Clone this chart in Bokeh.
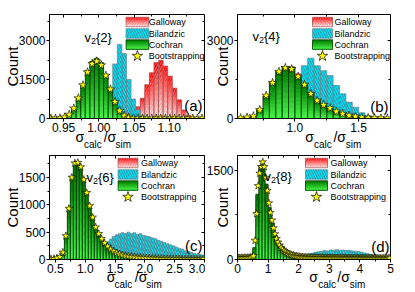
import numpy as np
from bokeh.plotting import figure
from bokeh.models import Range1d, FixedTicker, PrintfTickFormatter, Label, LinearAxis
from bokeh.layouts import column, row
from bokeh.embed import file_html
from bokeh.resources import INLINE

FONT = "Liberation Sans"

# ---------------- data ----------------
# (a) v2{2}: bin width 0.0065, first bin centre 0.932
A_W = 0.0065
A_X0 = 0.932
A_BOOT = [0, 2, 12, 45, 150, 390, 780, 1280, 1780, 2100, 2200, 2050, 1650, 1120, 640, 300,
          110, 35, 10, 3, 0, 0, 0, 0, 0, 0, 0, 0, 0, 0, 0, 0, 0, 0]
A_GREEN = [0, 0, 10, 50, 160, 400, 800, 1300, 1850, 2200, 2320, 2150, 1700, 1150, 650, 300,
           110, 35, 10, 0, 0, 0, 0, 0, 0, 0, 0, 0, 0, 0, 0, 0, 0, 0]
A_CYAN = [0, 0, 0, 0, 0, 0, 0, 0, 0, 0, 30, 120, 400, 1100, 2100, 2850, 2500, 1500, 750, 330,
          120, 40, 0, 0, 0, 0, 0, 0, 0, 0, 0, 0, 0, 0]
A_RED = [0, 0, 0, 0, 0, 0, 0, 0, 0, 0, 0, 0, 0, 0, 0, 0, 0, 0, 80, 450, 780, 1300, 1760, 2150,
         2240, 2020, 1630, 1170, 720, 330, 130, 40, 0, 0]

# (b) v2{4}: bin width 0.05
B_W = 0.05
B_X0 = 0.575
B_BOOT = [15, 40, 90, 330, 880, 1370, 1800, 1950, 1900, 1610, 1300, 950, 690, 525, 400, 270,
          180, 115, 77, 40, 25, 15, 8, 5]
B_GREEN = [10, 35, 95, 340, 860, 1400, 1820, 2000, 1980, 1620, 1280, 960, 700, 530, 390, 280,
           185, 120, 75, 45, 25, 15, 8, 4]
B_RED = [10, 35, 95, 340, 860, 1400, 1820, 2000, 1980, 1720, 1300, 960, 700, 530, 390, 280,
         185, 120, 75, 45, 25, 15, 8, 4]
B_CYAN = [0, 0, 0, 10, 50, 150, 350, 650, 1050, 1600, 2030, 2320, 2030, 1840, 1650, 1270,
          950, 630, 435, 220, 115, 50, 20, 5]

# (c) v2{6}: bin width 0.05
C_W = 0.05
C_X0 = 0.425
C_BOOT = [10, 15, 25, 50, 130, 430, 930, 1500, 1760, 1770, 1690, 1460, 1220, 980, 770, 590,
          470, 380, 300, 240, 185, 150, 120, 100, 82, 70, 60, 52, 45, 40, 35, 30, 27, 24, 21,
          19, 17, 15, 13, 12, 11, 10, 9, 8, 7, 7, 6, 5, 5, 4, 4, 3]
C_GREEN = [8, 12, 22, 45, 140, 440, 940, 1520, 1780, 1790, 1700, 1470, 1230, 990, 780, 600,
           475, 385, 300, 240, 190, 150, 120, 100, 84, 70, 60, 52, 45, 40, 35, 31, 27, 24, 21,
           19, 17, 15, 13, 12, 11, 10, 9, 8, 7, 7, 6, 5, 5, 4, 4, 3]
C_RED = [7, 11, 20, 42, 130, 420, 920, 1500, 1760, 1770, 1680, 1450, 1210, 970, 760, 585,
         460, 375, 290, 232, 184, 145, 116, 96, 80, 67, 57, 50, 43, 38, 33, 29, 26, 23, 20,
         18, 16, 14, 12, 11, 10, 9, 8, 7, 6, 6, 5, 5, 4, 4, 3, 3]
C_CYAN = [0, 0, 0, 0, 0, 0, 0, 0, 0, 0, 0, 0, 0, 0,
          20, 50, 100, 170, 240, 310, 370, 420, 450, 470, 490, 475, 500, 470, 490, 455, 470,
          440, 430, 415, 395, 380, 350, 335, 310, 290, 270, 250, 228, 205, 190, 162, 145, 128,
          112, 100, 90, 80]

# (d) v2{8}: bars bin width 0.1, bootstrapping bin width 0.05
D_W = 0.1
D_X0 = 0.05
D_GREEN = [25, 28, 30, 32, 40, 200, 1100, 1580, 1600, 1270, 880, 610, 400, 270, 190, 140, 105,
           82, 65, 53, 45, 40, 36, 33, 31, 29, 28, 27, 26, 25, 25, 24, 24, 23, 23, 22, 22, 21,
           21, 20, 20, 20, 19, 19, 19, 18, 18, 18, 17, 17]
D_RED = [24, 27, 29, 31, 38, 190, 1080, 1560, 1580, 1250, 860, 600, 390, 262, 184, 135, 101,
         79, 62, 51, 43, 38, 34, 31, 29, 27, 26, 25, 24, 23, 23, 22, 22, 21, 21, 20, 20, 19,
         19, 18, 18, 18, 17, 17, 17, 16, 16, 16, 15, 15]
D_CYAN = [0, 0, 0, 0, 0, 0, 0, 0, 0, 0, 0, 0, 0, 0, 0, 0, 0,
          15, 25, 35, 50, 65, 80, 95, 105, 120, 130, 140, 150, 145, 160, 155, 165, 155, 160,
          150, 155, 145, 140, 135, 125, 110, 100, 85, 75, 65, 55, 50, 45, 40]
D_BOOT_W = 0.05
D_BOOT_X0 = 0.025
D_BOOT = [25, 25, 27, 28, 29, 30, 30, 31, 33, 36,
          60, 320, 770, 1240, 1450, 1560, 1640, 1560, 1380, 1160,
          950, 790, 660, 530, 430, 350, 290, 240, 200, 170,
          145, 125, 108, 95, 84, 75, 67, 60, 55, 50,
          46, 43, 40, 38, 36, 34, 33, 32, 31, 30,
          30, 29, 29, 28, 28, 28, 27, 27, 27, 26,
          26, 26, 25, 25, 25, 25, 24, 24, 24, 24,
          23, 23, 23, 23, 22, 22, 22, 22, 22, 21,
          21, 21, 21, 21, 20, 20, 20, 20, 20, 20,
          19, 19, 19, 19, 19, 18, 18, 18, 18, 18]

SERIES = ["Galloway", "Bilandzic", "Cochran", "Bootstrapping"]
PANEL_TAGS = ["(a)", "(b)", "(c)", "(d)"]
ORDERS = ["2", "4", "6", "8"]

# ---------------- styles ----------------
RED_TOP, RED_BOT = "#ff0000", "#ffffff"
GRN_TOP, GRN_BOT = "#007a00", "#45f045"
CYAN = "#00eaf8"
RED_LINE, CYAN_LINE, GRN_LINE = "#a05858", "#6a8890", "#063806"
RED_HATCH, CYAN_HATCH = "#ff7a7a", "#3a6a88"
STAR_FILL = "#ffff00"
NB = "\u00a0"


def centers(x0, w, n):
    return [x0 + w * i for i in range(n)]


def hex2rgb(h):
    h = h.lstrip("#")
    return tuple(int(h[i:i + 2], 16) for i in (0, 2, 4))


def mix(c_top, c_bot, t):
    a, b = hex2rgb(c_top), hex2rgb(c_bot)
    return "#%02x%02x%02x" % tuple(int(round(a[i] + (b[i] - a[i]) * t)) for i in range(3))


class Frame:
    def __init__(self, xr, yr, fw, fh):
        self.xr, self.yr, self.fw, self.fh = xr, yr, fw, fh

    def x(self, px):
        return self.xr[0] + px / self.fw * (self.xr[1] - self.xr[0])

    def y(self, py):  # py measured from frame top
        return self.yr[1] - py / self.fh * (self.yr[1] - self.yr[0])


def grad_vbars(p, xs, vals, w, c_top, c_bot, n=10):
    v = np.asarray(vals, float)
    for k in range(n):
        p.vbar(x=xs, width=w, bottom=0, top=v * (n - k) / n,
               fill_color=mix(c_top, c_bot, k / (n - 1)), line_color=None)


def series_red(p, xs, vals, w):
    grad_vbars(p, xs, vals, w, RED_TOP, RED_BOT)
    p.vbar(x=xs, width=w, top=vals, fill_color=None, line_color=None,
           hatch_pattern="/", hatch_color=RED_HATCH, hatch_scale=5, hatch_weight=0.8)
    p.vbar(x=xs, width=w, top=vals, fill_color=None, line_color=RED_LINE, line_width=0.7)


def series_cyan(p, xs, vals, w):
    p.vbar(x=xs, width=w, top=vals, fill_color=CYAN, line_color=None)
    p.vbar(x=xs, width=w, top=vals, fill_color=None, line_color=None,
           hatch_pattern="\\", hatch_color=CYAN_HATCH, hatch_scale=5, hatch_weight=0.8)
    p.vbar(x=xs, width=w, top=vals, fill_color=None, line_color=CYAN_LINE, line_width=0.7)


def series_green(p, xs, vals, w):
    grad_vbars(p, xs, vals, w, GRN_TOP, GRN_BOT)
    p.vbar(x=xs, width=w, top=vals, fill_color=None, line_color=GRN_LINE, line_width=0.7)


def stars(p, xs, vals, size):
    p.scatter(x=xs, y=vals, marker="star", size=size, fill_color=STAR_FILL,
              line_color="black", line_width=0.6)


def lab(p, x, y, text, size, xo=0, yo=0, align="left", baseline="alphabetic"):
    p.add_layout(Label(x=x, y=y, x_offset=xo, y_offset=yo, text=text, text_font=FONT,
                       text_font_size=size, text_align=align, text_baseline=baseline,
                       text_color="black"))


def grad_quad(p, l, r, b, t, c_top, c_bot, n=8):
    for k in range(n):
        p.quad(left=[l], right=[r], bottom=[b], top=[b + (t - b) * (n - k) / n],
               fill_color=mix(c_top, c_bot, k / (n - 1)), line_color=None)


def legend(p, F, px, pw, tx, rows=(7.5, 19, 30, 41.5), ph=9.5, star_size=11):
    l, r = F.x(px), F.x(px + pw)
    # Galloway
    t, b = F.y(rows[0] - ph / 2), F.y(rows[0] + ph / 2)
    grad_quad(p, l, r, b, t, RED_TOP, RED_BOT)
    p.quad(left=[l], right=[r], bottom=[b], top=[t], fill_color=None, line_color=None,
           hatch_pattern="/", hatch_color=RED_HATCH, hatch_scale=5, hatch_weight=0.8)
    p.quad(left=[l], right=[r], bottom=[b], top=[t], fill_color=None, line_color=RED_LINE,
           line_width=0.7)
    # Bilandzic
    t, b = F.y(rows[1] - ph / 2), F.y(rows[1] + ph / 2)
    p.quad(left=[l], right=[r], bottom=[b], top=[t], fill_color=CYAN, line_color=None)
    p.quad(left=[l], right=[r], bottom=[b], top=[t], fill_color=None, line_color=None,
           hatch_pattern="\\", hatch_color=CYAN_HATCH, hatch_scale=5, hatch_weight=0.8)
    p.quad(left=[l], right=[r], bottom=[b], top=[t], fill_color=None, line_color=CYAN_LINE,
           line_width=0.7)
    # Cochran
    t, b = F.y(rows[2] - ph / 2), F.y(rows[2] + ph / 2)
    grad_quad(p, l, r, b, t, GRN_TOP, GRN_BOT)
    p.quad(left=[l], right=[r], bottom=[b], top=[t], fill_color=None, line_color=GRN_LINE,
           line_width=0.7)
    # Bootstrapping
    p.scatter(x=[F.x(px + pw / 2)], y=[F.y(rows[3])], marker="star", size=star_size,
              fill_color=STAR_FILL, line_color="black", line_width=0.7)
    for name, rr in zip(SERIES, rows):
        lab(p, F.x(tx), F.y(rr), name, "9px", baseline="middle")


def mirror_axis(ticker):
    return LinearAxis(ticker=ticker, axis_line_color=None,
                      major_tick_in=3, major_tick_out=0, minor_tick_in=2, minor_tick_out=0,
                      major_tick_line_color="black", minor_tick_line_color="black",
                      major_label_standoff=0, major_label_text_font_size="0px",
                      major_label_text_color=None)


def make_panel(xr, yr, w, h, bl, br, bt, bb, xt, xminor, xfmt, yt, yminor,
               count_standoff, xl_shift, xl_standoff, sub_standoff):
    p = figure(width=w, height=h, x_range=Range1d(*xr), y_range=Range1d(*yr),
               output_backend="svg", toolbar_location=None,
               min_border_left=bl, min_border_right=br, min_border_top=bt,
               min_border_bottom=bb)
    p.grid.visible = False
    p.outline_line_color = "black"
    p.outline_line_width = 1
    p.outline_line_alpha = 1.0
    p.background_fill_color = "white"
    p.border_fill_color = "white"
    p.xaxis.ticker = FixedTicker(ticks=xt, minor_ticks=xminor)
    p.xaxis.formatter = PrintfTickFormatter(format=xfmt)
    p.yaxis.ticker = FixedTicker(ticks=yt, minor_ticks=yminor)
    p.yaxis.formatter = PrintfTickFormatter(format="%d")
    for ax in list(p.xaxis) + list(p.yaxis):
        ax.axis_line_color = "black"
        ax.major_tick_line_color = "black"
        ax.minor_tick_line_color = "black"
        ax.major_tick_out = 3
        ax.major_tick_in = 0
        ax.minor_tick_out = 2
        ax.minor_tick_in = 0
        ax.major_label_text_font = FONT
        ax.major_label_text_font_size = "12px"
        ax.major_label_text_color = "black"
        ax.major_label_standoff = 1
        ax.axis_label_text_font = FONT
        ax.axis_label_text_font_style = "normal"
        ax.axis_label_text_color = "black"
    # y label
    p.yaxis.axis_label = "Count"
    p.yaxis.axis_label_text_font_size = "15px"
    p.yaxis.axis_label_standoff = count_standoff
    # x label: sigma_calc / sigma_sim built from a main line and a subscript line
    if xl_shift >= 0:
        pre14, post14 = NB * round(2 * xl_shift / 3.89), ""
        pre10, post10 = NB * round(2 * xl_shift / 2.78), ""
    else:
        pre14, post14 = "", NB * round(-2 * xl_shift / 3.89)
        pre10, post10 = "", NB * round(-2 * xl_shift / 2.78)
    p.xaxis.axis_label = pre14 + "\u03c3" + NB * 5 + "/\u03c3" + NB * 4 + post14
    p.xaxis.axis_label_text_font_size = "14px"
    p.xaxis.axis_label_standoff = xl_standoff
    sub = LinearAxis(ticker=FixedTicker(ticks=[]), axis_line_color=None,
                     major_tick_out=0, major_tick_in=0, minor_tick_out=0, minor_tick_in=0,
                     major_label_standoff=0, major_label_text_font_size="10px",
                     axis_label=pre10 + NB * 3 + "calc" + NB * 5 + "sim" + post10,
                     axis_label_text_font=FONT, axis_label_text_font_size="10px",
                     axis_label_text_font_style="normal", axis_label_text_color="black",
                     axis_label_standoff=sub_standoff)
    p.add_layout(sub, "below")
    # mirrored inward ticks on the top and right frame edges
    p.add_layout(mirror_axis(FixedTicker(ticks=yt, minor_ticks=yminor)), "right")
    p.add_layout(mirror_axis(FixedTicker(ticks=xt, minor_ticks=xminor)), "above")
    return p, Frame(xr, yr, w - bl - br, h - bt - bb)


def decorate(p, F, order, tag, vx, vy, tag_dx, tag_dy, leg_px, leg_pw, leg_tx):
    xr, yr = F.xr, F.yr
    lab(p, xr[0], yr[1], "v", "13px", xo=vx, yo=-vy)
    lab(p, xr[0], yr[1], "2", "9px", xo=vx + 6.5, yo=-vy - 3)
    lab(p, xr[0], yr[1], "{" + order + "}", "13px", xo=vx + 11.5, yo=-vy)
    lab(p, xr[1], yr[0], tag, "15px", xo=-tag_dx, yo=tag_dy, align="right")
    legend(p, F, leg_px, leg_pw, leg_tx)


SUB_SO = -9

# ---------------- panel (a) ----------------
pa, Fa = make_panel((0.93, 1.15), (0, 4000), 205, 152, 48, 1, 14, 34,
                    [0.95, 1.00, 1.05, 1.10], [0.975, 1.025, 1.075, 1.125], "%.2f",
                    [0, 1500, 3000], [750, 2250, 3750],
                    -5, -24, -6, SUB_SO)
xa = centers(A_X0, A_W, len(A_BOOT))
series_red(pa, xa, A_RED, A_W)
series_cyan(pa, xa, A_CYAN, A_W)
series_green(pa, xa, A_GREEN, A_W)
stars(pa, xa, A_BOOT, 9)
decorate(pa, Fa, ORDERS[0], PANEL_TAGS[0], 35, 23, 2, 13, 77, 23, 100)

# ---------------- panel (b) ----------------
pb, Fb = make_panel((0.55, 1.75), (0, 4000), 210, 152, 32, 25, 14, 34,
                    [1.0, 1.5], [0.75, 1.25], "%.1f",
                    [0, 3000], [1500],
                    -27, 20, -6, SUB_SO)
xb = centers(B_X0, B_W, len(B_BOOT))
series_red(pb, xb, B_RED, B_W)
series_cyan(pb, xb, B_CYAN, B_W)
series_green(pb, xb, B_GREEN, B_W)
stars(pb, xb, B_BOOT, 9)
decorate(pb, Fb, ORDERS[1], PANEL_TAGS[1], 15, 22, 2, 12, 75, 20, 97)

# ---------------- panel (c) ----------------
pc, Fc = make_panel((0.4, 3.0), (0, 1900), 205, 140, 48, 1, 3, 33,
                    [0.5, 1.0, 1.5, 2.0, 2.5, 3.0], [0.75, 1.25, 1.75, 2.25, 2.75], "%.1f",
                    [0, 500, 1000, 1500], [250, 750, 1250, 1750],
                    -5, 7, -7, SUB_SO)
xc = centers(C_X0, C_W, len(C_BOOT))
series_red(pc, xc, C_RED, C_W)
series_cyan(pc, xc, C_CYAN, C_W)
series_green(pc, xc, C_GREEN, C_W)
stars(pc, xc, C_BOOT, 8)
decorate(pc, Fc, ORDERS[2], PANEL_TAGS[2], 37, 22, 2, 14, 69, 20, 92)

# ---------------- panel (d) ----------------
pd_, Fd = make_panel((0.0, 5.0), (0, 1750), 210, 140, 32, 25, 3, 33,
                     [0, 1, 2, 3, 4, 5], [0.5, 1.5, 2.5, 3.5, 4.5], "%d",
                     [0, 1500], [750],
                     -27, 23, -7, SUB_SO)
xd = centers(D_X0, D_W, len(D_GREEN))
series_red(pd_, xd, D_RED, D_W)
series_cyan(pd_, xd, D_CYAN, D_W)
series_green(pd_, xd, D_GREEN, D_W)
stars(pd_, centers(D_BOOT_X0, D_BOOT_W, len(D_BOOT)), D_BOOT, 8)
decorate(pd_, Fd, ORDERS[3], PANEL_TAGS[3], 27, 21, 1, 13, 68, 22, 93)

layout = column(row(pa, pb), row(pc, pd_))
open("out.html", "w").write(file_html(layout, INLINE))
